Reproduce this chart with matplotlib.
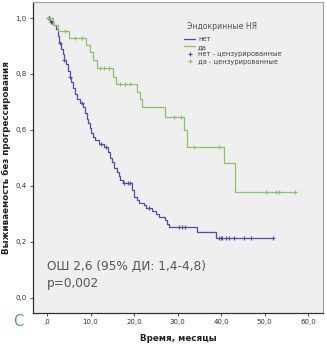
import numpy as np
import matplotlib
matplotlib.use("Agg")
import matplotlib.pyplot as plt
from matplotlib.lines import Line2D

# ---- data ----
no_t = [0, 0.8, 1.5, 2.0, 2.5, 2.8, 3.2, 3.6, 3.9, 4.3, 4.8, 5.2, 5.6, 6.0, 6.4, 6.8,
        7.5, 8.3, 8.7, 9.1, 9.4, 9.8, 10.2, 10.6, 11.0, 12.0, 13.2, 14.0, 14.4, 15.0,
        15.5, 16.0, 16.5, 16.8, 17.4, 19.6, 20.0, 20.6, 21.2, 22.2, 22.8, 24.2, 25.0,
        25.8, 27.0, 27.6, 28.0, 34.5, 38.8]
no_s = [1.0, 0.987, 0.975, 0.962, 0.935, 0.91, 0.89, 0.87, 0.85, 0.835, 0.81, 0.79,
        0.77, 0.75, 0.73, 0.71, 0.695, 0.68, 0.66, 0.64, 0.625, 0.605, 0.59, 0.575,
        0.562, 0.55, 0.537, 0.52, 0.50, 0.485, 0.465, 0.45, 0.435, 0.42, 0.41, 0.385,
        0.36, 0.35, 0.34, 0.33, 0.322, 0.31, 0.30, 0.29, 0.278, 0.265, 0.254, 0.236,
        0.214]
no_cens = [0.4, 0.9, 1.2, 3.0, 4.0, 5.4, 8.0, 12.5, 13.5, 17.8, 18.5, 19.1, 23.5,
           30.4, 31.0, 31.6, 39.5, 40.0, 40.3, 41.0, 41.8, 42.9, 45.2, 46.8, 52.0]

yes_t = [0, 1.5, 2.5, 5.0, 9.0, 9.8, 10.5, 11.4, 15.2, 15.8, 20.6, 21.4, 21.9, 27.0,
         31.5, 32.2, 40.6, 43.2]
yes_s = [1.0, 0.976, 0.952, 0.93, 0.905, 0.88, 0.85, 0.82, 0.79, 0.764, 0.735, 0.71,
         0.68, 0.646, 0.60, 0.539, 0.48, 0.379]
yes_cens = [0.3, 0.8, 4.1, 6.4, 8.0, 12.1, 13.2, 14.2, 16.7, 18.0, 19.0, 29.2, 30.8,
            33.8, 39.5, 50.2, 52.5, 53.2, 57.0]

x_ticks = [0, 10, 20, 30, 40, 50, 60]
x_labels = [",0", "10,0", "20,0", "30,0", "40,0", "50,0", "60,0"]
y_ticks = [0.0, 0.2, 0.4, 0.6, 0.8, 1.0]
y_labels = ["0,0", "0,2", "0,4", "0,6", "0,8", "1,0"]

legend_title = "Эндокринные НЯ"
legend_labels = ["нет", "да", "нет - цензурированные", "да - цензурированные"]

BLUE = "#4f4fa6"
GREEN = "#8cc06a"


def step_value(ts, ss, t):
    idx = np.searchsorted(np.asarray(ts), t, side="right") - 1
    return np.asarray(ss)[idx]


fig = plt.figure(figsize=(3.27, 3.47), dpi=100)
ax = fig.add_axes([0.101, 0.098, 0.887, 0.896])
ax.set_facecolor("#efefef")

for ts, ss, cens, col in [(no_t, no_s, no_cens, BLUE), (yes_t, yes_s, yes_cens, GREEN)]:
    tt = list(ts) + [max(cens)]
    sv = list(ss) + [ss[-1]]
    ax.step(tt, sv, where="post", color=col, lw=0.9)
    cy = [step_value(ts, ss, c) for c in cens]
    ax.plot(cens, cy, ls="none", marker="+", ms=3.5, mew=0.8, color=col)

ax.set_xlim(-3.2, 63.4)
ax.set_ylim(-0.055, 1.057)
ax.set_xticks(x_ticks)
ax.set_xticklabels(x_labels)
ax.set_yticks(y_ticks)
ax.set_yticklabels(y_labels)
ax.tick_params(labelsize=5, colors="#333333", length=2.5, width=0.6, pad=2)

for side in ["top", "right"]:
    ax.spines[side].set_color("#a0a0a0")
    ax.spines[side].set_linewidth(0.8)
for side in ["left", "bottom"]:
    ax.spines[side].set_color("#303030")
    ax.spines[side].set_linewidth(0.9)

ax.set_ylabel("Выживаемость без прогрессирования", fontsize=6.3, fontweight="bold",
              color="#222222", labelpad=3)
ax.set_xlabel("Время, месяцы", fontsize=6.3, fontweight="bold", color="#222222",
              labelpad=6)

handles = [
    Line2D([], [], color=BLUE, lw=0.9),
    Line2D([], [], color=GREEN, lw=0.9),
    Line2D([], [], color=BLUE, ls="none", marker="+", ms=3.5, mew=0.8),
    Line2D([], [], color=GREEN, ls="none", marker="+", ms=3.5, mew=0.8),
]
ax.text(0.532, 0.923, legend_title, transform=ax.transAxes, fontsize=5.6,
        color="#555555", ha="left", va="center")
leg = ax.legend(handles, legend_labels, loc="upper left",
                bbox_to_anchor=(0.522, 0.89), frameon=False, fontsize=4.9,
                handlelength=1.6, handletextpad=0.4, borderpad=0.0,
                labelspacing=0.22, borderaxespad=0.0)
for t in leg.get_texts():
    t.set_color("#444444")

ax.text(0.0, 0.11, "ОШ 2,6 (95% ДИ: 1,4-4,8)", fontsize=8.7, color="#555555",
        va="center")
ax.text(0.0, 0.052, "p=0,002", fontsize=8.7, color="#555555", va="center")
fig.text(18 / 327, 1 - 322 / 347, "C", fontsize=10.5, color="#5a9a8a",
         ha="center", va="center")

fig.savefig("out.png", dpi=100)
